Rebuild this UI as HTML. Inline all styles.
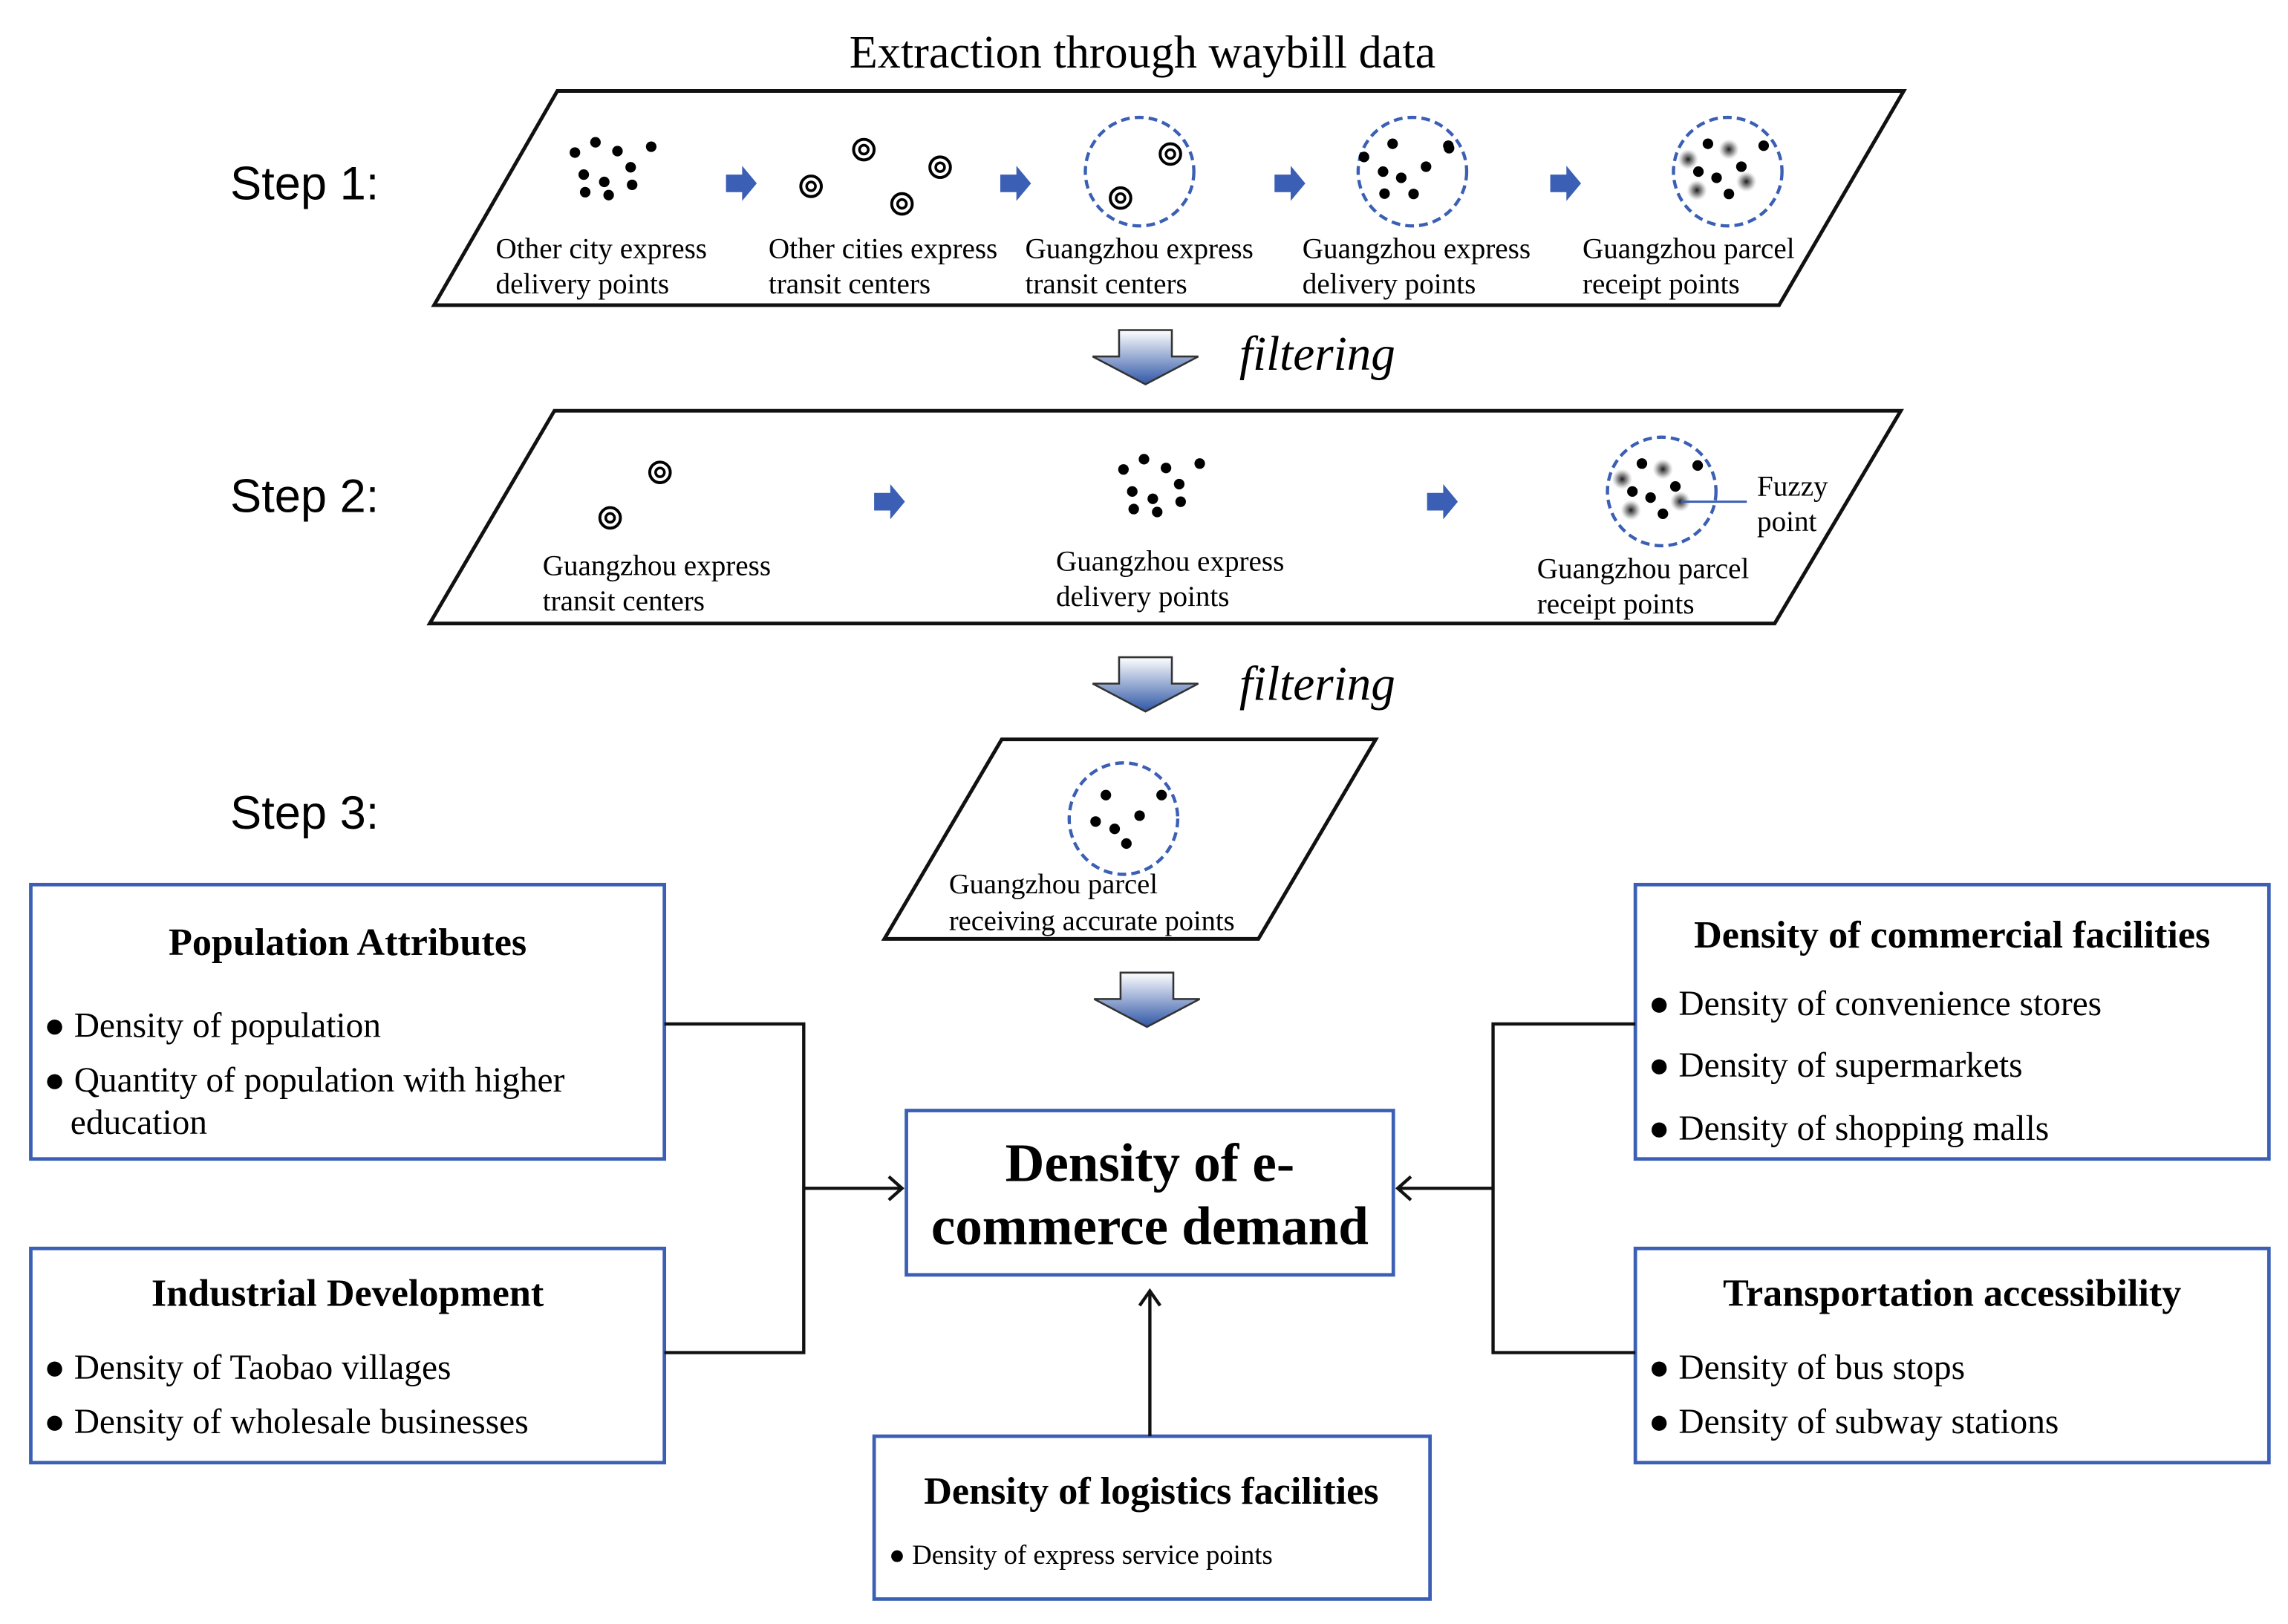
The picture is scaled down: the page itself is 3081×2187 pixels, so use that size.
<!DOCTYPE html>
<html><head><meta charset="utf-8"><style>html,body{margin:0;padding:0;background:#fff}svg{display:block}</style></head>
<body>
<svg width="3081" height="2187" viewBox="0 0 1560 1107" preserveAspectRatio="none" xmlns="http://www.w3.org/2000/svg" font-family="'Liberation Serif',serif">
<defs>
<linearGradient id="g" x1="0" y1="0" x2="0" y2="1"><stop offset="0" stop-color="#ffffff"/><stop offset="1" stop-color="#2f56a6"/></linearGradient>
<radialGradient id="fz"><stop offset="0" stop-color="#000" stop-opacity="0.9"/><stop offset="0.5" stop-color="#333" stop-opacity="0.5"/><stop offset="1" stop-color="#888" stop-opacity="0"/></radialGradient>
<g id="bigarrow"><path d="M-18,0 H18 V18 H36 L0,37 L-36,18 H-18 Z" fill="url(#g)" stroke="#333" stroke-width="1.3"/></g>
<g id="sarrow"><path d="M-10,-6 H1 V-12 L11,0 L1,12 V6 H-10 Z" fill="#3a5fb5"/></g>
<g id="ring"><circle r="7" fill="none" stroke="#000" stroke-width="2"/><circle r="3" fill="none" stroke="#000" stroke-width="1.8"/></g>
<g id="dots1" fill="#000"><circle cx="-26" cy="-11" r="3.6"/><circle cx="-12" cy="-18" r="3.6"/><circle cx="3" cy="-12" r="3.6"/><circle cx="26" cy="-15" r="3.6"/><circle cx="-20" cy="4" r="3.6"/><circle cx="-6" cy="9" r="3.6"/><circle cx="12" cy="-1" r="3.6"/><circle cx="-19" cy="16" r="3.6"/><circle cx="-3" cy="18" r="3.6"/><circle cx="13" cy="11" r="3.6"/></g>
<g id="gzdots" fill="#000"><circle cx="-13.5" cy="-19" r="3.6"/><circle cx="24.5" cy="-17.7" r="3.6"/><circle cx="-20" cy="0" r="3.6"/><circle cx="-7.6" cy="4.2" r="3.6"/><circle cx="9.3" cy="-3.4" r="3.6"/><circle cx="0.8" cy="15.2" r="3.6"/></g>
<g id="fuzzy"><circle cx="0.8" cy="-15.2" r="7" fill="url(#fz)"/><circle cx="-27" cy="-8.4" r="7" fill="url(#fz)"/><circle cx="-21" cy="12.7" r="7" fill="url(#fz)"/><circle cx="12.7" cy="6.8" r="7" fill="url(#fz)"/></g>
<circle id="dash" r="37" fill="none" stroke="#3a5fb5" stroke-width="2.2" stroke-dasharray="6,3.5"/>
</defs>

<text x="779" y="46" font-size="31.5" text-anchor="middle">Extraction through waybill data</text>

<g font-family="'Liberation Sans',sans-serif" font-size="32">
<text x="157" y="136">Step 1:</text>
<text x="157" y="349">Step 2:</text>
<text x="157" y="565">Step 3:</text>
</g>

<g fill="none" stroke="#111" stroke-width="2.5">
<path d="M380,62 H1298 L1213,208 H296 Z"/>
<path d="M378,280 H1296 L1210,425 H293 Z"/>
<path d="M683,504 H938 L858,640 H603 Z"/>
</g>

<use href="#dots1" x="418" y="115"/>
<use href="#sarrow" x="505" y="125"/>
<use href="#ring" x="553" y="127"/><use href="#ring" x="589" y="102"/><use href="#ring" x="641" y="114"/><use href="#ring" x="615" y="139"/>
<use href="#sarrow" x="692" y="125"/>
<use href="#dash" x="777" y="117"/><use href="#ring" x="798" y="105"/><use href="#ring" x="764" y="135"/>
<use href="#sarrow" x="879" y="125"/>
<use href="#dash" x="963" y="117"/><use href="#gzdots" x="963" y="117"/><g fill="#000"><circle cx="930" cy="107" r="3.6"/><circle cx="944" cy="132" r="3.6"/><circle cx="988" cy="101" r="3.6"/></g>
<use href="#sarrow" x="1067" y="125"/>
<use href="#dash" x="1178" y="117"/><use href="#gzdots" x="1178" y="117"/><use href="#fuzzy" x="1178" y="117"/>

<g font-size="19.8">
<text x="338" y="176">Other city express</text><text x="338" y="200">delivery points</text>
<text x="524" y="176">Other cities express</text><text x="524" y="200">transit centers</text>
<text x="699" y="176">Guangzhou express</text><text x="699" y="200">transit centers</text>
<text x="888" y="176">Guangzhou express</text><text x="888" y="200">delivery points</text>
<text x="1079" y="176">Guangzhou parcel</text><text x="1079" y="200">receipt points</text>
</g>

<use href="#bigarrow" x="781" y="225"/>
<text x="845" y="252" font-size="33" font-style="italic">filtering</text>

<use href="#ring" x="450" y="322"/><use href="#ring" x="416" y="353"/>
<use href="#sarrow" x="606" y="342"/>
<use href="#dots1" x="792" y="331"/>
<use href="#sarrow" x="983" y="342"/>
<use href="#dash" x="1133" y="335"/><use href="#gzdots" x="1133" y="335"/><use href="#fuzzy" x="1133" y="335"/>
<line x1="1146" y1="342" x2="1191" y2="342" stroke="#3a5fb5" stroke-width="1.5"/>
<g font-size="19.8">
<text x="1198" y="338">Fuzzy</text><text x="1198" y="362">point</text>
<text x="370" y="392">Guangzhou express</text><text x="370" y="416">transit centers</text>
<text x="720" y="389">Guangzhou express</text><text x="720" y="413">delivery points</text>
<text x="1048" y="394">Guangzhou parcel</text><text x="1048" y="418">receipt points</text>
</g>

<use href="#bigarrow" x="781" y="448"/>
<text x="845" y="477" font-size="33" font-style="italic">filtering</text>

<ellipse cx="766" cy="558" rx="37" ry="38" fill="none" stroke="#3a5fb5" stroke-width="2.2" stroke-dasharray="6,3.5"/>
<g fill="#000"><circle cx="754" cy="542" r="3.6"/><circle cx="792" cy="542" r="3.6"/><circle cx="747" cy="560" r="3.6"/><circle cx="760" cy="565" r="3.6"/><circle cx="777" cy="556" r="3.6"/><circle cx="768" cy="575" r="3.6"/></g>
<g font-size="19.5"><text x="647" y="609">Guangzhou parcel</text><text x="647" y="634">receiving accurate points</text></g>

<use href="#bigarrow" x="782" y="663"/>

<g fill="#fff" stroke="#3a5fb5" stroke-width="2.4">
<rect x="21" y="603" width="432" height="187"/>
<rect x="21" y="851" width="432" height="146"/>
<rect x="618" y="757" width="332" height="112"/>
<rect x="1115" y="603" width="432" height="187"/>
<rect x="1115" y="851" width="432" height="146"/>
<rect x="596" y="979" width="379" height="111"/>
</g>

<g fill="none" stroke="#111" stroke-width="2.2">
<path d="M453,698 H548 V922 H453"/>
<path d="M548,810 H614"/><path d="M606,802 L615,810 L606,818"/>
<path d="M1115,698 H1018 V922 H1115"/>
<path d="M1018,810 H954"/><path d="M962,802 L953,810 L962,818"/>
<path d="M784,979 V882"/><path d="M777,890 L784,880 L791,890"/>
</g>

<g font-size="26.4" font-weight="bold" text-anchor="middle">
<text x="237" y="651">Population Attributes</text>
<text x="237" y="890">Industrial Development</text>
<text x="1331" y="646">Density of commercial facilities</text>
<text x="1331" y="890">Transportation accessibility</text>
<text x="785" y="1025">Density of logistics facilities</text>
</g>
<g font-size="37" font-weight="bold" text-anchor="middle">
<text x="784" y="805">Density of e-</text>
<text x="784" y="848">commerce demand</text>
</g>
<g font-size="24">
<text x="30" y="707">● Density of population</text>
<text x="30" y="744">● Quantity of population with higher</text>
<text x="48" y="773">education</text>
<text x="30" y="940">● Density of Taobao villages</text>
<text x="30" y="977">● Density of wholesale businesses</text>
<text x="1124" y="692">● Density of convenience stores</text>
<text x="1124" y="734">● Density of supermarkets</text>
<text x="1124" y="777">● Density of shopping malls</text>
<text x="1124" y="940">● Density of bus stops</text>
<text x="1124" y="977">● Density of subway stations</text>
</g>
<text x="606" y="1066" font-size="18.6">● Density of express service points</text>
</svg>
</body></html>
